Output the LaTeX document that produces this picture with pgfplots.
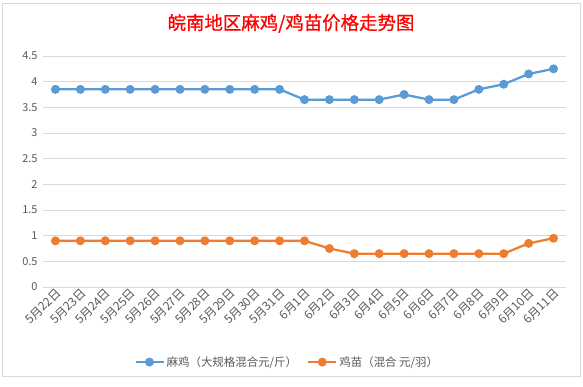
\documentclass[border=0pt]{standalone}
\usepackage{pgfplots}
\pgfplotsset{compat=1.18}
\usepackage{fontspec}
\setmainfont{Carlito}
\newfontfamily\cjk{Noto Sans CJK SC}
\newfontfamily\cjkt[FakeBold=0.8]{Noto Sans CJK SC}
\definecolor{blueS}{HTML}{5B9BD5}
\definecolor{orangeS}{HTML}{ED7D31}
\definecolor{gridc}{HTML}{D9D9D9}
\definecolor{txt}{HTML}{595959}
\begin{document}
\begin{tikzpicture}
\path[use as bounding box] (0bp,0bp) rectangle (583bp,387bp);
\draw[gridc, line width=0.75bp] (2.5bp,11bp) rectangle (580bp,384bp);
\node[text=red, font=\cjkt\fontsize{18.5}{19}\selectfont] at (291bp,363.5bp) {皖南地区麻鸡/鸡苗价格走势图};
\begin{axis}[
  at={(43bp,100bp)}, anchor=south west, scale only axis,
  width=523bp, height=231bp,
  xmin=-0.5, xmax=20.5, ymin=0, ymax=4.5,
  xtick={0,...,20},
  xticklabels={5月22日,5月23日,5月24日,5月25日,5月26日,5月27日,5月28日,5月29日,5月30日,5月31日,6月1日,6月2日,6月3日,6月4日,6月5日,6月6日,6月7日,6月8日,6月9日,6月10日,6月11日},
  major x tick style={draw=none},
  extra x ticks={-0.5,0.5,...,20.5},
  extra x tick labels={},
  extra x tick style={grid=none, tick style={draw=gridc, line width=0.75bp}, major tick length=5bp, tick align=outside},
  ytick={0,0.5,...,4.5},
  yticklabels={0,0.5,1,1.5,2,2.5,3,3.5,4,4.5},
  ymajorgrids,
  grid style={gridc, line width=0.75bp},
  major y tick style={draw=none},
  axis line style={draw=none},
  yticklabel style={font=\cjk\fontsize{11}{12}\selectfont, text=txt, xshift=-2bp},
  xticklabel style={rotate=45, anchor=east, font=\cjk\fontsize{12}{13}\selectfont, text=txt, xshift=3bp, yshift=-5bp},
  legend style={at={(0.467,-0.325)}, anchor=center, draw=none, legend columns=2,
    font=\cjk\fontsize{11.5}{13}\selectfont, text=txt,
    /tikz/every even column/.append style={column sep=8bp}},
  legend image code/.code={\draw[mark repeat=2,mark phase=2] plot coordinates {(0bp,0bp) (14bp,0bp) (28bp,0bp)};},
]
\addplot[blueS, line width=2.25bp, mark=*, mark size=3.3bp, mark options={solid, fill=blueS}] coordinates {
(0,3.85)(1,3.85)(2,3.85)(3,3.85)(4,3.85)(5,3.85)(6,3.85)(7,3.85)(8,3.85)(9,3.85)
(10,3.65)(11,3.65)(12,3.65)(13,3.65)(14,3.75)(15,3.65)(16,3.65)(17,3.85)(18,3.95)(19,4.15)(20,4.25)};
\addlegendentry{麻鸡（大规格混合元/斤）}
\addplot[orangeS, line width=2.25bp, mark=*, mark size=3.3bp, mark options={solid, fill=orangeS}] coordinates {
(0,0.9)(1,0.9)(2,0.9)(3,0.9)(4,0.9)(5,0.9)(6,0.9)(7,0.9)(8,0.9)(9,0.9)
(10,0.9)(11,0.75)(12,0.65)(13,0.65)(14,0.65)(15,0.65)(16,0.65)(17,0.65)(18,0.65)(19,0.85)(20,0.95)};
\addlegendentry{鸡苗（混合 元/羽）}
\end{axis}
\end{tikzpicture}
\end{document}
